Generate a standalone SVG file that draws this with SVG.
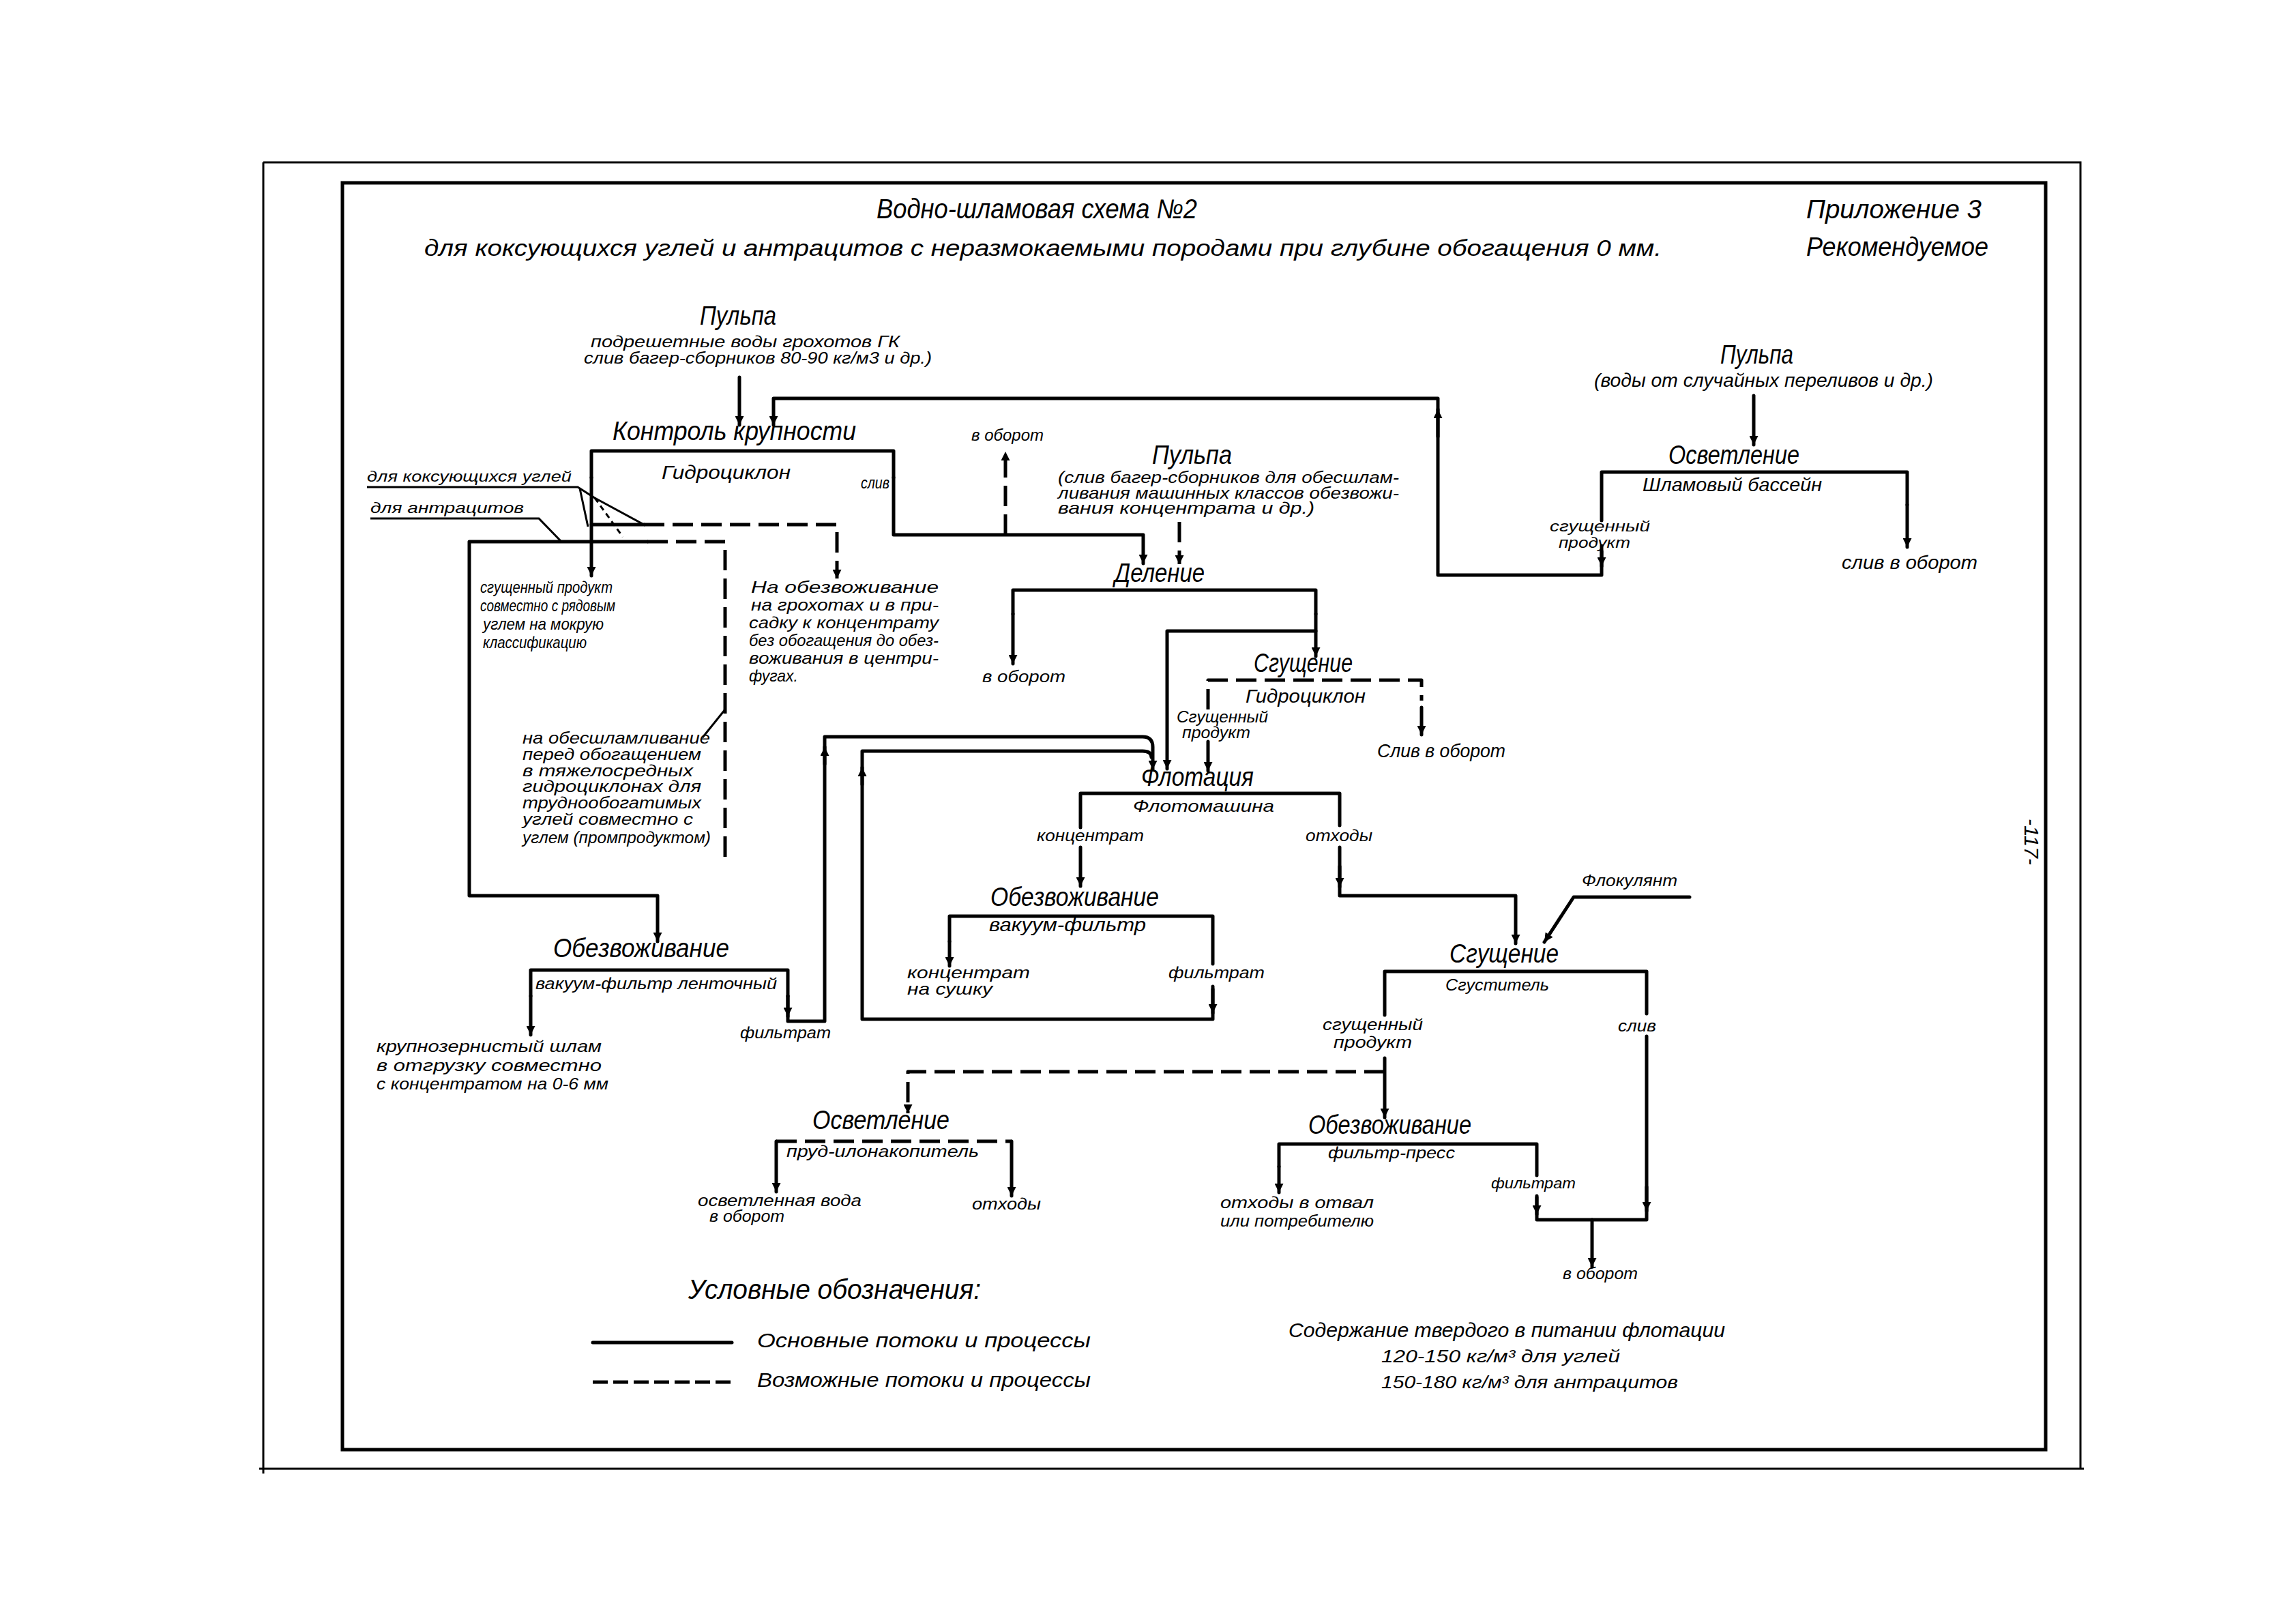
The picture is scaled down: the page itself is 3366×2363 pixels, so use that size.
<svg xmlns="http://www.w3.org/2000/svg" width="3366" height="2363" viewBox="0 0 3366 2363">
<style>
text{font-family:"Liberation Sans","DejaVu Sans",sans-serif;font-style:italic;fill:#000}
.h{font-size:38px}
.m{font-size:28px}
.s{font-size:24px}
.ln{fill:none;stroke:#000;stroke-width:5;stroke-linejoin:round;stroke-linecap:round}
.th{fill:none;stroke:#000;stroke-width:3}
.ds{stroke-dasharray:30 12;stroke-linecap:butt}
</style>
<defs>
<marker id="a" viewBox="0 0 10 10" refX="10" refY="5" markerWidth="6" markerHeight="2.6" orient="auto" markerUnits="strokeWidth"><path d="M0,0 L10,5 L0,10 z"/></marker>
</defs>
<rect width="3366" height="2363" fill="#fff"/>
<g id="frame">
<path class="th" d="M386,238 H3050 V2153 M386,238 V2160 M380,2153 H3055"/>
<rect x="502" y="268" width="2497" height="1857" fill="none" stroke="#000" stroke-width="5"/>
</g>
<g id="header">
<text x="1285" y="320" style="font-size:40px" textLength="470" lengthAdjust="spacingAndGlyphs">Водно-шламовая схема №2</text>
<text x="622" y="375" style="font-size:34px" textLength="1814" lengthAdjust="spacingAndGlyphs">для коксующихся углей и антрацитов с неразмокаемыми породами при глубине обогащения 0 мм.</text>
<text x="2648" y="320" style="font-size:38px" textLength="257" lengthAdjust="spacingAndGlyphs">Приложение 3</text>
<text x="2648" y="375" style="font-size:38px" textLength="267" lengthAdjust="spacingAndGlyphs">Рекомендуемое</text>
<text transform="translate(2968,1234) rotate(90)" style="font-size:30px" text-anchor="middle">-117-</text>
</g>
<g id="pulp1">
<text x="1026" y="476" class="h" textLength="112" lengthAdjust="spacingAndGlyphs">Пульпа</text>
<text x="866" y="509" class="s" textLength="453" lengthAdjust="spacingAndGlyphs">подрешетные воды грохотов ГК</text>
<text x="856" y="533" class="s" textLength="510" lengthAdjust="spacingAndGlyphs">слив багер-сборников 80-90 кг/м3 и др.)</text>
</g>
<g id="kontrol">
<text x="898" y="645" class="h" textLength="357" lengthAdjust="spacingAndGlyphs">Контроль крупности</text>
<path class="ln" d="M867,700 V661 H1310 V700"/>
<text x="970" y="702" class="m" textLength="189" lengthAdjust="spacingAndGlyphs">Гидроциклон</text>
<text x="1262" y="716" class="s" textLength="42" lengthAdjust="spacingAndGlyphs">слив</text>
</g>
<g id="leftnotes">
<text x="538" y="706" style="font-size:22px" textLength="300" lengthAdjust="spacingAndGlyphs">для коксующихся углей</text>
<text x="543" y="752" style="font-size:22px" textLength="225" lengthAdjust="spacingAndGlyphs">для антрацитов</text>
<path class="th" d="M538,714 H847 L872,730 M850,716 L862,772 M872,730 L944,769 M543,760 H790 L823,794"/>
<path class="th" d="M872,730 L913,787" stroke-dasharray="8 6"/>
<text x="704" y="869" class="s" textLength="194" lengthAdjust="spacingAndGlyphs">сгущенный продукт</text>
<text x="704" y="896" class="s" textLength="198" lengthAdjust="spacingAndGlyphs">совместно с рядовым</text>
<text x="708" y="923" class="s" textLength="177" lengthAdjust="spacingAndGlyphs">углем на мокрую</text>
<text x="708" y="950" class="s" textLength="152" lengthAdjust="spacingAndGlyphs">классификацию</text>
<text x="1101" y="869" class="s" textLength="275" lengthAdjust="spacingAndGlyphs">На обезвоживание</text>
<text x="1101" y="895" class="s" textLength="275" lengthAdjust="spacingAndGlyphs">на грохотах и в при-</text>
<text x="1098" y="921" class="s" textLength="278" lengthAdjust="spacingAndGlyphs">садку к концентрату</text>
<text x="1098" y="947" class="s" textLength="278" lengthAdjust="spacingAndGlyphs">без обогащения до обез-</text>
<text x="1098" y="973" class="s" textLength="278" lengthAdjust="spacingAndGlyphs">воживания в центри-</text>
<text x="1098" y="999" class="s" textLength="72" lengthAdjust="spacingAndGlyphs">фугах.</text>
<text x="766" y="1090" class="s" textLength="275" lengthAdjust="spacingAndGlyphs">на обесшламливание</text>
<text x="766" y="1114" class="s" textLength="262" lengthAdjust="spacingAndGlyphs">перед обогащением</text>
<text x="766" y="1138" class="s" textLength="250" lengthAdjust="spacingAndGlyphs">в тяжелосредных</text>
<text x="766" y="1161" class="s" textLength="262" lengthAdjust="spacingAndGlyphs">гидроциклонах для</text>
<text x="766" y="1185" class="s" textLength="262" lengthAdjust="spacingAndGlyphs">труднообогатимых</text>
<text x="766" y="1209" class="s" textLength="250" lengthAdjust="spacingAndGlyphs">углей совместно с</text>
<text x="766" y="1236" class="s" textLength="276" lengthAdjust="spacingAndGlyphs">углем (промпродуктом)</text>
<path class="th" d="M1030,1081 L1063,1040"/>
</g>
<g id="pulp2">
<text x="1689" y="680" class="h" textLength="117" lengthAdjust="spacingAndGlyphs">Пульпа</text>
<text x="1551" y="708" class="s" textLength="500" lengthAdjust="spacingAndGlyphs">(слив багер-сборников для обесшлам-</text>
<text x="1551" y="731" class="s" textLength="500" lengthAdjust="spacingAndGlyphs">ливания машинных классов обезвожи-</text>
<text x="1551" y="753" class="s" textLength="376" lengthAdjust="spacingAndGlyphs">вания концентрата и др.)</text>
<text x="1424" y="646" class="s" textLength="106" lengthAdjust="spacingAndGlyphs">в оборот</text>
</g>
<g id="delenie">
<text x="1634" y="853" class="h" textLength="132" lengthAdjust="spacingAndGlyphs">Деление</text>
<path class="ln" d="M1485,900 V865 H1929 V900"/>
<text x="1440" y="1000" class="s" textLength="122" lengthAdjust="spacingAndGlyphs">в оборот</text>
</g>
<g id="sgush1">
<text x="1838" y="985" class="h" textLength="145" lengthAdjust="spacingAndGlyphs">Сгущение</text>
<path class="ln ds" d="M1771,1040 V997 H2084 V1027"/>
<text x="1826" y="1030" class="m" textLength="176" lengthAdjust="spacingAndGlyphs">Гидроциклон</text>
<text x="1725" y="1059" class="s" textLength="134" lengthAdjust="spacingAndGlyphs">Сгущенный</text>
<text x="1733" y="1082" class="s" textLength="100" lengthAdjust="spacingAndGlyphs">продукт</text>
<text x="2019" y="1110" class="m" textLength="188" lengthAdjust="spacingAndGlyphs">Слив в оборот</text>
</g>
<g id="flotacia">
<text x="1673" y="1152" class="h" textLength="165" lengthAdjust="spacingAndGlyphs">Флотация</text>
<path class="ln" d="M1584,1213 V1163 H1964 V1210"/>
<text x="1661" y="1190" class="s" textLength="207" lengthAdjust="spacingAndGlyphs">Флотомашина</text>
<text x="1520" y="1233" class="s" textLength="157" lengthAdjust="spacingAndGlyphs">концентрат</text>
<text x="1914" y="1233" class="s" textLength="98" lengthAdjust="spacingAndGlyphs">отходы</text>
</g>
<g id="obezv1">
<text x="811" y="1403" class="h" textLength="258" lengthAdjust="spacingAndGlyphs">Обезвоживание</text>
<path class="ln" d="M778,1460 V1422 H1155 V1460"/>
<text x="785" y="1450" class="s" textLength="354" lengthAdjust="spacingAndGlyphs">вакуум-фильтр ленточный</text>
<text x="1085" y="1522" class="s" textLength="133" lengthAdjust="spacingAndGlyphs">фильтрат</text>
<text x="552" y="1542" class="s" textLength="330" lengthAdjust="spacingAndGlyphs">крупнозернистый шлам</text>
<text x="552" y="1570" class="s" textLength="330" lengthAdjust="spacingAndGlyphs">в отгрузку совместно</text>
<text x="552" y="1597" class="s" textLength="340" lengthAdjust="spacingAndGlyphs">с концентратом на 0-6 мм</text>
</g>
<g id="obezv2">
<text x="1452" y="1328" class="h" textLength="247" lengthAdjust="spacingAndGlyphs">Обезвоживание</text>
<path class="ln" d="M1392,1380 V1343 H1778 V1413"/>
<text x="1450" y="1365" class="m" textLength="230" lengthAdjust="spacingAndGlyphs">вакуум-фильтр</text>
<text x="1330" y="1434" class="s" textLength="180" lengthAdjust="spacingAndGlyphs">концентрат</text>
<text x="1330" y="1458" class="s" textLength="125" lengthAdjust="spacingAndGlyphs">на сушку</text>
<text x="1713" y="1434" class="s" textLength="141" lengthAdjust="spacingAndGlyphs">фильтрат</text>
</g>
<g id="sgush2">
<text x="2319" y="1299" class="s" textLength="140" lengthAdjust="spacingAndGlyphs">Флокулянт</text>
<text x="2125" y="1411" class="h" textLength="160" lengthAdjust="spacingAndGlyphs">Сгущение</text>
<path class="ln" d="M2030,1488 V1424 H2414 V1486"/>
<text x="2119" y="1452" class="s" textLength="152" lengthAdjust="spacingAndGlyphs">Сгуститель</text>
<text x="1939" y="1510" class="s" textLength="147" lengthAdjust="spacingAndGlyphs">сгущенный</text>
<text x="1955" y="1536" class="s" textLength="115" lengthAdjust="spacingAndGlyphs">продукт</text>
<text x="2372" y="1512" class="s" textLength="56" lengthAdjust="spacingAndGlyphs">слив</text>
</g>
<g id="osvet2">
<text x="1191" y="1655" class="h" textLength="201" lengthAdjust="spacingAndGlyphs">Осветление</text>
<path class="ln ds" d="M1138,1673 H1483"/>
<text x="1153" y="1696" class="s" textLength="282" lengthAdjust="spacingAndGlyphs">пруд-илонакопитель</text>
<text x="1023" y="1768" class="s" textLength="240" lengthAdjust="spacingAndGlyphs">осветленная вода</text>
<text x="1040" y="1791" class="s" textLength="110" lengthAdjust="spacingAndGlyphs">в оборот</text>
<text x="1425" y="1773" class="s" textLength="101" lengthAdjust="spacingAndGlyphs">отходы</text>
</g>
<g id="obezv3">
<text x="1918" y="1662" class="h" textLength="239" lengthAdjust="spacingAndGlyphs">Обезвоживание</text>
<path class="ln" d="M1875,1710 V1677 H2253 V1723"/>
<text x="1947" y="1698" class="s" textLength="186" lengthAdjust="spacingAndGlyphs">фильтр-пресс</text>
<text x="2186" y="1742" style="font-size:22px" textLength="124" lengthAdjust="spacingAndGlyphs">фильтрат</text>
<text x="1789" y="1771" class="s" textLength="225" lengthAdjust="spacingAndGlyphs">отходы в отвал</text>
<text x="1789" y="1798" class="s" textLength="225" lengthAdjust="spacingAndGlyphs">или потребителю</text>
<text x="2291" y="1875" class="s" textLength="110" lengthAdjust="spacingAndGlyphs">в оборот</text>
</g>
<g id="osvet1">
<text x="2522" y="533" class="h" textLength="107" lengthAdjust="spacingAndGlyphs">Пульпа</text>
<text x="2337" y="567" class="m" textLength="497" lengthAdjust="spacingAndGlyphs">(воды от случайных переливов и др.)</text>
<text x="2446" y="680" class="h" textLength="192" lengthAdjust="spacingAndGlyphs">Осветление</text>
<path class="ln" d="M2348,763 V692 H2796 V740"/>
<text x="2408" y="720" class="m" textLength="263" lengthAdjust="spacingAndGlyphs">Шламовый бассейн</text>
<text x="2272" y="779" style="font-size:22px" textLength="147" lengthAdjust="spacingAndGlyphs">сгущенный</text>
<text x="2285" y="803" style="font-size:22px" textLength="105" lengthAdjust="spacingAndGlyphs">продукт</text>
<text x="2700" y="834" class="m" textLength="199" lengthAdjust="spacingAndGlyphs">слив в оборот</text>
</g>
<g id="legend">
<text x="1009" y="1904" style="font-size:40px" textLength="429" lengthAdjust="spacingAndGlyphs">Условные обозначения:</text>
<path class="ln" d="M869,1968 H1073"/>
<path class="ln ds" d="M869,2026 H1073" style="stroke-dasharray:22 8"/>
<text x="1110" y="1975" style="font-size:30px" textLength="489" lengthAdjust="spacingAndGlyphs">Основные потоки и процессы</text>
<text x="1110" y="2033" style="font-size:30px" textLength="489" lengthAdjust="spacingAndGlyphs">Возможные потоки и процессы</text>
<text x="1889" y="1960" style="font-size:30px" textLength="640" lengthAdjust="spacingAndGlyphs">Содержание твердого в питании флотации</text>
<text x="2025" y="1997" style="font-size:26px" textLength="350" lengthAdjust="spacingAndGlyphs">120-150 кг/м³ для углей</text>
<text x="2025" y="2035" style="font-size:26px" textLength="435" lengthAdjust="spacingAndGlyphs">150-180 кг/м³ для антрацитов</text>
</g>
<g id="connectors">
<path class="ln" d="M1084,553 V623" marker-end="url(#a)"/>
<path class="ln" d="M2348,808 V843 H2108 V584 H1134 V623" marker-end="url(#a)"/>
<path class="ln" d="M2348,800 V830" marker-end="url(#a)"/>
<path class="ln" d="M2108,640 V600" marker-end="url(#a)"/>
<path class="ln" d="M2571,580 V652" marker-end="url(#a)"/>
<path class="ln" d="M2796,740 V802" marker-end="url(#a)"/>
<path class="ln" d="M1310,700 V784 H1676 V826" marker-end="url(#a)"/>
<path class="ln ds" d="M1474,784 V662" marker-end="url(#a)"/>
<path class="ln ds" d="M1729,765 V827" marker-end="url(#a)"/>
<path class="ln" d="M867,700 V844" marker-end="url(#a)"/>
<path class="ln" d="M867,769 H944"/>
<path class="ln ds" d="M944,769 H1227 V848" marker-end="url(#a)"/>
<path class="ln" d="M949,794 H688 V1313 H964 V1380" marker-end="url(#a)"/>
<path class="ln ds" d="M949,794 H1063 V1258"/>
<path class="ln" d="M1485,900 V973" marker-end="url(#a)"/>
<path class="ln" d="M1929,900 V962" marker-end="url(#a)"/>
<path class="ln" d="M1929,925 H1711 V1127" marker-end="url(#a)"/>
<path class="ln" d="M1771,1087 V1130" marker-end="url(#a)"/>
<path class="ln" d="M2084,1037 V1077" marker-end="url(#a)"/>
<path class="ln" d="M1584,1242 V1299" marker-end="url(#a)"/>
<path class="ln" d="M1964,1242 V1313 H2222 V1383" marker-end="url(#a)"/>
<path class="ln" d="M1964,1270 V1300" marker-end="url(#a)"/>
<path class="ln" d="M2477,1315 H2307 L2264,1381" marker-end="url(#a)"/>
<path class="ln" d="M1155,1460 V1497 H1209 V1080 H1675 Q1690,1080 1690,1095 V1128" marker-end="url(#a)"/>
<path class="ln" d="M1155,1460 V1490" marker-end="url(#a)"/>
<path class="ln" d="M1209,1120 V1095" marker-end="url(#a)"/>
<path class="ln" d="M1778,1446 V1494 H1264 V1101 H1675 Q1688,1101 1688,1110"/>
<path class="ln" d="M1778,1450 V1485" marker-end="url(#a)"/>
<path class="ln" d="M1264,1150 V1125" marker-end="url(#a)"/>
<path class="ln" d="M778,1460 V1517" marker-end="url(#a)"/>
<path class="ln" d="M1392,1380 V1416" marker-end="url(#a)"/>
<path class="ln" d="M2030,1551 V1638" marker-end="url(#a)"/>
<path class="ln ds" d="M2030,1571 H1331 V1632" marker-end="url(#a)"/>
<path class="ln" d="M1138,1673 V1747" marker-end="url(#a)"/>
<path class="ln" d="M1483,1673 V1753" marker-end="url(#a)"/>
<path class="ln" d="M1875,1710 V1748" marker-end="url(#a)"/>
<path class="ln" d="M2414,1519 V1788 H2253 V1753"/>
<path class="ln" d="M2414,1740 V1775" marker-end="url(#a)"/>
<path class="ln" d="M2253,1755 V1780" marker-end="url(#a)"/>
<path class="ln" d="M2334,1788 V1857" marker-end="url(#a)"/>
</g>
</svg>
